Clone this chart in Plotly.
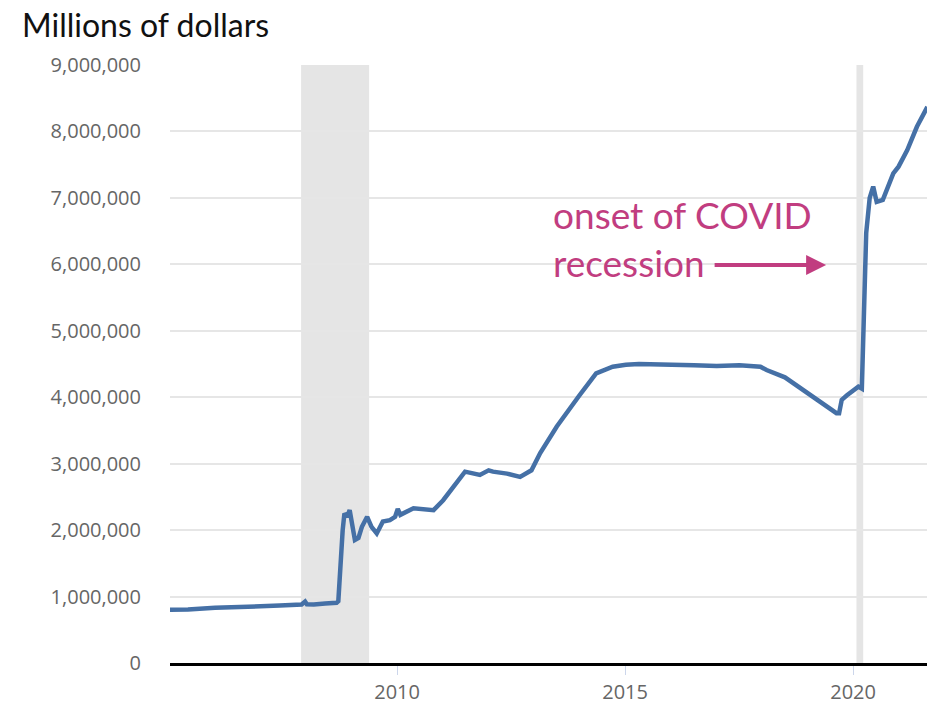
import plotly.graph_objects as go

# Fed total assets, millions of dollars
dates = [
    "2005-01-05", "2005-06-01", "2006-01-04", "2006-06-07", "2007-01-03", "2007-06-06",
    "2007-11-28", "2007-12-26", "2008-01-09", "2008-03-05", "2008-06-04", "2008-09-03",
    "2008-09-17", "2008-10-01", "2008-10-22", "2008-11-05", "2008-11-26", "2008-12-17",
    "2009-01-07", "2009-01-28", "2009-02-25", "2009-03-25", "2009-05-06", "2009-05-27",
    "2009-06-10", "2009-07-22", "2009-09-09", "2009-11-04", "2009-12-16", "2010-01-06",
    "2010-01-27", "2010-05-12", "2010-08-04", "2010-10-20", "2011-01-05",
    "2011-06-29", "2011-10-26", "2012-01-04", "2012-02-08",
    "2012-05-30", "2012-09-12", "2012-12-12", "2013-02-20", "2013-07-03", "2014-01-01",
    "2014-05-14", "2014-09-24", "2015-01-07", "2015-04-22", "2016-01-06", "2016-07-06",
    "2017-01-04", "2017-07-05", "2017-12-20", "2018-02-07", "2018-07-04", "2019-02-13",
    "2019-05-15", "2019-08-21", "2019-09-11", "2019-10-02", "2019-11-13", "2020-02-12",
    "2020-03-11", "2020-03-18", "2020-04-01", "2020-04-15", "2020-05-13", "2020-06-10",
    "2020-07-08", "2020-08-26", "2020-11-18", "2020-12-30", "2021-03-10", "2021-05-26",
    "2021-08-18",
]
assets = [
    800000, 805000, 830000, 845000, 860000, 865000,
    880000, 925000, 885000, 880000, 895000, 905000,
    930000, 1400000, 2000000, 2250000, 2200000, 2300000,
    2050000, 1850000, 1880000, 2050000, 2200000, 2100000,
    2050000, 1950000, 2130000, 2150000, 2200000, 2320000,
    2230000, 2330000, 2310000, 2300000, 2450000,
    2880000, 2830000, 2900000, 2880000,
    2850000, 2800000, 2900000, 3160000, 3560000, 4030000,
    4360000, 4460000, 4490000, 4500000, 4480000, 4480000,
    4470000, 4480000, 4460000, 4410000, 4300000, 4010000,
    3880000, 3760000, 3760000, 3960000, 4030000, 4160000,
    4130000, 4700000, 5800000, 6470000, 7000000, 7170000,
    6940000, 6970000, 7370000, 7470000, 7720000, 8070000,
    8370000,
]

recessions = [("2007-11-24", "2009-05-22"), ("2020-01-28", "2020-03-22")]

fig = go.Figure()
fig.add_trace(go.Scatter(
    x=dates, y=assets, mode="lines",
    line=dict(color="#4570a6", width=4.5),
    hoverinfo="skip", showlegend=False,
))

for start, end in recessions:
    fig.add_shape(type="rect", xref="x", yref="paper", x0=start, x1=end, y0=0, y1=1,
                  fillcolor="#e5e5e5", line_width=0, layer="between")

fig.add_annotation(
    x="2013-05-18", y=6390000, xref="x", yref="y",
    text="onset of COVID<br>recession", showarrow=False,
    xanchor="left", yanchor="middle", align="left",
    font=dict(family="Lato", size=37, color="#c13d80"),
)
fig.add_annotation(
    x="2019-05-30", y=5990000, xref="x", yref="y",
    ax=-113, ay=0, text="", showarrow=True,
    arrowhead=2, arrowsize=1, arrowwidth=4, arrowcolor="#c13d80",
)

fig.add_annotation(
    x=0, y=1, xref="paper", yref="paper", xshift=-150, yshift=62,
    text="Millions of dollars", showarrow=False,
    xanchor="left", yanchor="top",
    font=dict(family="Lato", size=32, color="#111111"),
)

fig.update_xaxes(
    type="date", range=["2005-01-08", "2021-08-15"],
    tick0="2000-01-01", dtick="M60", tickformat="%Y",
    showgrid=False, showline=True, linecolor="#000000", linewidth=3,
    ticks="outside", ticklen=9, tickcolor="#ccd6eb", tickwidth=1,
    tickfont=dict(family="Open Sans", size=20, color="#666666"),
)
fig.update_yaxes(
    range=[0, 9000000], dtick=1000000, tickformat=",d",
    showgrid=True, gridcolor="#e6e6e6", gridwidth=1.5, zeroline=False,
    ticklabelstandoff=28,
    tickfont=dict(family="Open Sans", size=20, color="#666666"),
)

fig.update_layout(
    width=927, height=704,
    margin=dict(l=170, r=0, t=65, b=41),
    plot_bgcolor="#ffffff", paper_bgcolor="#ffffff",
)

fig.write_html(
    "out.html",
    config={"displayModeBar": False},
    post_script="document.body.style.margin='0';document.body.style.overflow='hidden';",
)
